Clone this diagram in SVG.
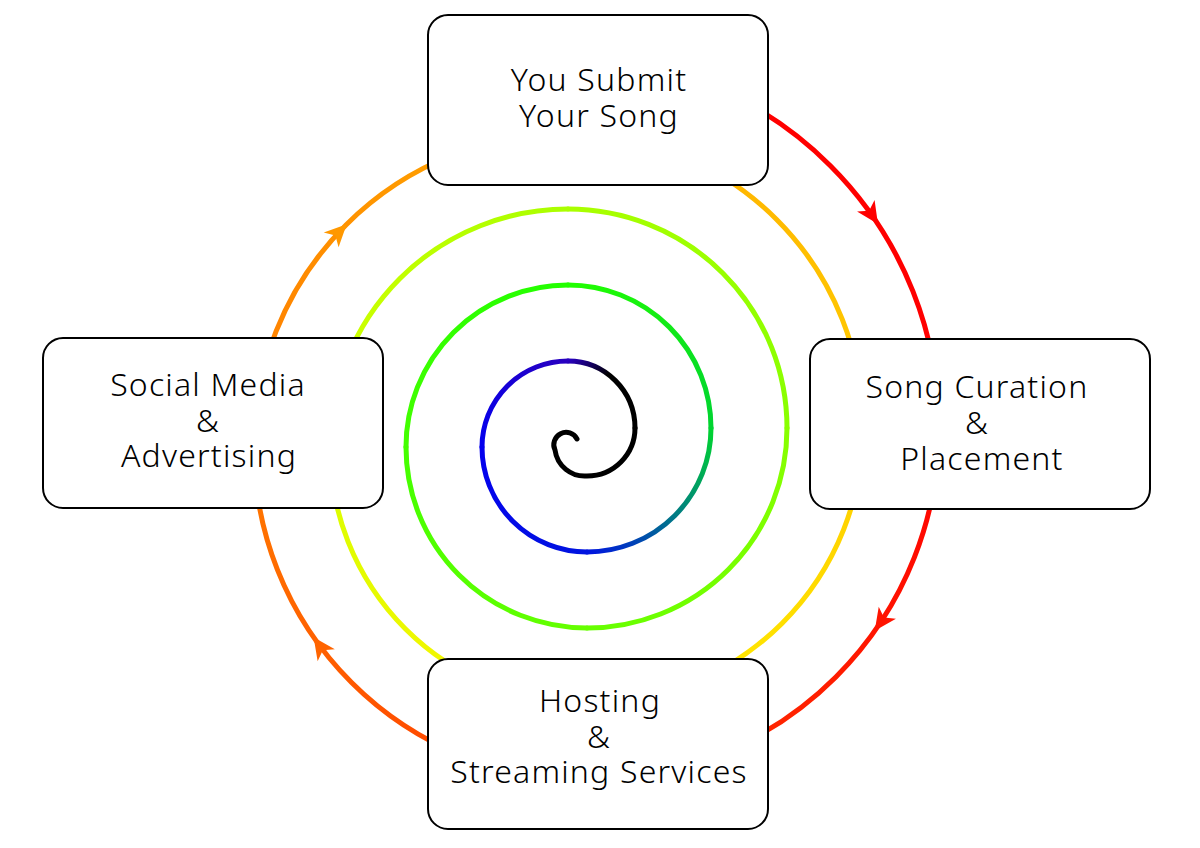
<svg xmlns="http://www.w3.org/2000/svg" width="1200" height="848" viewBox="0 0 1200 848">
<style>
.sp{fill:none;stroke-width:5;stroke-linecap:round}
.box{fill:#fff;stroke:#000;stroke-width:2}
.t{font-family:"Noto Sans","DejaVu Sans",sans-serif;font-size:32px;font-weight:300;letter-spacing:1.2px;fill:#000;text-anchor:middle}
</style>
<defs>
<linearGradient id="g0" gradientUnits="userSpaceOnUse" x1="568" y1="57" x2="939" y2="428"><stop offset="0" stop-color="#ff0000"/><stop offset="1" stop-color="#ff0000"/></linearGradient>
<linearGradient id="g1" gradientUnits="userSpaceOnUse" x1="939" y1="428" x2="587" y2="780"><stop offset="0" stop-color="#ff0000"/><stop offset="1" stop-color="#ff3800"/></linearGradient>
<linearGradient id="g2" gradientUnits="userSpaceOnUse" x1="587" y1="780" x2="254" y2="447"><stop offset="0" stop-color="#ff3800"/><stop offset="1" stop-color="#ff7a00"/></linearGradient>
<linearGradient id="g3" gradientUnits="userSpaceOnUse" x1="254" y1="447" x2="568" y2="133"><stop offset="0" stop-color="#ff7a00"/><stop offset="1" stop-color="#ffaa00"/></linearGradient>
<linearGradient id="g4" gradientUnits="userSpaceOnUse" x1="568" y1="133" x2="863" y2="428"><stop offset="0" stop-color="#ffaa00"/><stop offset="1" stop-color="#ffcc00"/></linearGradient>
<linearGradient id="g5" gradientUnits="userSpaceOnUse" x1="863" y1="428" x2="587" y2="704"><stop offset="0" stop-color="#ffcc00"/><stop offset="1" stop-color="#fff200"/></linearGradient>
<linearGradient id="g6" gradientUnits="userSpaceOnUse" x1="587" y1="704" x2="330" y2="447"><stop offset="0" stop-color="#fff200"/><stop offset="1" stop-color="#d8ff00"/></linearGradient>
<linearGradient id="g7" gradientUnits="userSpaceOnUse" x1="330" y1="447" x2="568" y2="209"><stop offset="0" stop-color="#d8ff00"/><stop offset="1" stop-color="#aaff00"/></linearGradient>
<linearGradient id="g8" gradientUnits="userSpaceOnUse" x1="568" y1="209" x2="787" y2="428"><stop offset="0" stop-color="#aaff00"/><stop offset="1" stop-color="#88ff00"/></linearGradient>
<linearGradient id="g9" gradientUnits="userSpaceOnUse" x1="787" y1="428" x2="587" y2="628"><stop offset="0" stop-color="#88ff00"/><stop offset="1" stop-color="#66ff00"/></linearGradient>
<linearGradient id="g10" gradientUnits="userSpaceOnUse" x1="587" y1="628" x2="406" y2="447"><stop offset="0" stop-color="#66ff00"/><stop offset="1" stop-color="#44ff00"/></linearGradient>
<linearGradient id="g11" gradientUnits="userSpaceOnUse" x1="406" y1="447" x2="568" y2="285"><stop offset="0" stop-color="#44ff00"/><stop offset="1" stop-color="#22ff00"/></linearGradient>
<linearGradient id="g12" gradientUnits="userSpaceOnUse" x1="568" y1="285" x2="711" y2="428"><stop offset="0" stop-color="#22ff00"/><stop offset="1" stop-color="#00d430"/></linearGradient>
<linearGradient id="g13" gradientUnits="userSpaceOnUse" x1="711" y1="428" x2="587" y2="552"><stop offset="0" stop-color="#00d430"/><stop offset="0.5" stop-color="#007a85"/><stop offset="1" stop-color="#0014e0"/></linearGradient>
<linearGradient id="g14" gradientUnits="userSpaceOnUse" x1="587" y1="552" x2="482" y2="447"><stop offset="0" stop-color="#0014e0"/><stop offset="1" stop-color="#0400ee"/></linearGradient>
<linearGradient id="g15" gradientUnits="userSpaceOnUse" x1="482" y1="447" x2="568" y2="361"><stop offset="0" stop-color="#0400ee"/><stop offset="1" stop-color="#2800c0"/></linearGradient>
<linearGradient id="g16" gradientUnits="userSpaceOnUse" x1="568" y1="361" x2="635" y2="428"><stop offset="0" stop-color="#2800c0"/><stop offset="0.4" stop-color="#000000"/><stop offset="1" stop-color="#000000"/></linearGradient>
<path id="ah" d="M1,0 L-21,-10.5 L-15,0 L-21,10.5 Z"/>
</defs>
<g id="connectors">
<path class="sp" stroke="url(#g0)" d="M568,57 A371,371 0 0 1 939,428"/>
<path class="sp" stroke="url(#g1)" d="M939,428 A352,352 0 0 1 587,780"/>
<path class="sp" stroke="url(#g2)" d="M587,780 A333,333 0 0 1 254,447"/>
<path class="sp" stroke="url(#g3)" d="M254,447 A314,314 0 0 1 568,133"/>
<path class="sp" stroke="url(#g4)" d="M568,133 A295,295 0 0 1 863,428"/>
<path class="sp" stroke="url(#g5)" d="M863,428 A276,276 0 0 1 587,704"/>
<path class="sp" stroke="url(#g6)" d="M587,704 A257,257 0 0 1 330,447"/>
<path class="sp" stroke="url(#g7)" d="M330,447 A238,238 0 0 1 568,209"/>
<path class="sp" stroke="url(#g8)" d="M568,209 A219,219 0 0 1 787,428"/>
<path class="sp" stroke="url(#g9)" d="M787,428 A200,200 0 0 1 587,628"/>
<path class="sp" stroke="url(#g10)" d="M587,628 A181,181 0 0 1 406,447"/>
<path class="sp" stroke="url(#g11)" d="M406,447 A162,162 0 0 1 568,285"/>
<path class="sp" stroke="url(#g12)" d="M568,285 A143,143 0 0 1 711,428"/>
<path class="sp" stroke="url(#g13)" d="M711,428 A124,124 0 0 1 587,552"/>
<path class="sp" stroke="url(#g14)" d="M587,552 A105,105 0 0 1 482,447"/>
<path class="sp" stroke="url(#g15)" d="M482,447 A86,86 0 0 1 568,361"/>
<path class="sp" stroke="url(#g16)" d="M568,361 A67,67 0 0 1 635,428"/>
<path class="sp" stroke="#000" d="M635,428 A48,48 0 0 1 587,476 A30,30 0 0 1 555,450 A12.3,12.3 0 0 1 577,439"/>
<use href="#ah" fill="#ff0000" transform="translate(877.4,223.2) rotate(56.5)"/>
<use href="#ah" fill="#ff1400" transform="translate(875.3,629.9) rotate(125)"/>
<use href="#ah" fill="#ff6400" transform="translate(314.2,638) rotate(235)"/>
<use href="#ah" fill="#ff9800" transform="translate(346,225) rotate(-45)"/>
</g>
<g id="node-submit">
<rect class="box" x="428" y="15" width="340" height="170" rx="20"/>
<text class="t" x="599" y="91">You Submit</text>
<text class="t" x="599" y="127">Your Song</text>
</g>
<g id="node-curation">
<rect class="box" x="810" y="339" width="340" height="170" rx="20"/>
<text class="t" x="977" y="398">Song Curation</text>
<text class="t" x="977" y="434">&amp;</text>
<text class="t" x="982" y="470">Placement</text>
</g>
<g id="node-hosting">
<rect class="box" x="428" y="659" width="340" height="170" rx="20"/>
<text class="t" x="600" y="712">Hosting</text>
<text class="t" x="599" y="748">&amp;</text>
<text class="t" x="599" y="783">Streaming Services</text>
</g>
<g id="node-social">
<rect class="box" x="43" y="338" width="340" height="170" rx="20"/>
<text class="t" x="208" y="396">Social Media</text>
<text class="t" x="208" y="432">&amp;</text>
<text class="t" x="209" y="467">Advertising</text>
</g>
</svg>
